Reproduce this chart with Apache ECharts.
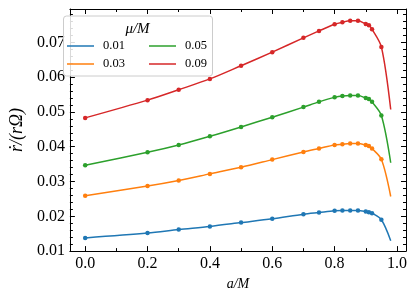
<!DOCTYPE html>
<html>
<head>
<meta charset="utf-8">
<script src="https://cdn.jsdelivr.net/npm/echarts@6/dist/echarts.min.js"></script>
<style>html,body{margin:0;padding:0;background:#fff;}#c{width:415px;height:296px;}</style>
</head>
<body>
<div id="c"></div>
<script>
// spin parameter a/M samples
var aVals = [0, 0.2, 0.3, 0.4, 0.5, 0.6, 0.7, 0.75, 0.8, 0.825, 0.85, 0.875, 0.9, 0.91, 0.92, 0.95, 0.98];
// rdot/(r Omega) for each mu/M
var mu001 = [0.0138, 0.0152, 0.0162, 0.0171, 0.0182, 0.0193, 0.0206, 0.0211, 0.0216, 0.0217, 0.0217, 0.0217, 0.0214, 0.0212, 0.0209, 0.0190, 0.0130];
var mu003 = [0.0259, 0.0287, 0.0303, 0.0322, 0.0341, 0.0363, 0.0385, 0.0395, 0.0405, 0.0407, 0.0409, 0.0409, 0.0405, 0.0402, 0.0395, 0.0364, 0.0257];
var mu005 = [0.0347, 0.0384, 0.0405, 0.0430, 0.0457, 0.0485, 0.0514, 0.0529, 0.0542, 0.0546, 0.0547, 0.0547, 0.0540, 0.0537, 0.0529, 0.0490, 0.0354];
var mu009 = [0.0483, 0.0534, 0.0564, 0.0595, 0.0633, 0.0672, 0.0713, 0.0733, 0.0752, 0.0758, 0.0762, 0.0762, 0.0753, 0.0749, 0.0738, 0.0687, 0.0507];
var seriesNames = ['0.01', '0.03', '0.05', '0.09'];
var seriesColors = ['#1f77b4', '#ff7f0e', '#2ca02c', '#d62728'];
var xTicks = [0.0, 0.2, 0.4, 0.6, 0.8, 1.0];
var xMinorTicks = [0.1, 0.3, 0.5, 0.7, 0.9];
var yTicks = [0.01, 0.02, 0.03, 0.04, 0.05, 0.06, 0.07];
var yMinorTicks = [0.012, 0.014, 0.016, 0.018, 0.022, 0.024, 0.026, 0.028, 0.032, 0.034, 0.036, 0.038,
                   0.042, 0.044, 0.046, 0.048, 0.052, 0.054, 0.056, 0.058, 0.062, 0.064, 0.066, 0.068,
                   0.072, 0.074, 0.076, 0.078];

var FONT = '"Liberation Serif", "DejaVu Serif", serif';
var XMIN = -0.049, XMAX = 1.029, YMIN = 0.01, YMAX = 0.0796;

function xAxisDef(pos, ticks, len, labels, line) {
  return {
    type: 'value', position: pos, min: XMIN, max: XMAX,
    splitLine: {show: false},
    axisLine: {show: line, onZero: false, lineStyle: {color: '#000', width: 1}},
    axisTick: {show: true, inside: true, length: len, customValues: ticks, lineStyle: {color: '#000', width: 1}},
    axisLabel: {show: labels, customValues: ticks, color: '#000', fontFamily: FONT, fontSize: 16, margin: 5,
      formatter: function (v) { return v.toFixed(1); }},
    name: labels && pos === 'bottom' ? 'a/M' : '',
    nameLocation: 'middle', nameGap: 22,
    nameTextStyle: {fontFamily: FONT, fontStyle: 'italic', fontSize: 14, color: '#000'}
  };
}
function yAxisDef(pos, ticks, len, labels, line) {
  return {
    type: 'value', position: pos, min: YMIN, max: YMAX,
    splitLine: {show: false},
    axisLine: {show: line, onZero: false, lineStyle: {color: '#000', width: 1}},
    axisTick: {show: true, inside: true, length: len, customValues: ticks, lineStyle: {color: '#000', width: 1}},
    axisLabel: {show: labels, customValues: ticks, color: '#000', fontFamily: FONT, fontSize: 16, margin: 5,
      formatter: function (v) { return v.toFixed(2); }},
    name: labels && pos === 'left' ? 'ṙ/(rΩ)' : '',
    nameLocation: 'middle', nameGap: 39,
    nameTextStyle: {fontFamily: FONT, fontStyle: 'italic', fontSize: 18, color: '#000'}
  };
}

var allData = [mu001, mu003, mu005, mu009];
var series = allData.map(function (vals, i) {
  return {
    name: seriesNames[i], type: 'line', xAxisIndex: 0, yAxisIndex: 0,
    smooth: 0.3,
    symbol: 'circle', symbolSize: 4.5,
    lineStyle: {color: seriesColors[i], width: 1.5},
    itemStyle: {color: seriesColors[i], borderWidth: 0},
    data: aVals.map(function (a, j) {
      var item = {value: [a, vals[j]]};
      if (j === aVals.length - 1) item.symbol = 'none';
      return item;
    }),
    z: 2
  };
});

function legendDef(names, left) {
  return {
    data: names, orient: 'vertical', left: left, top: 39, padding: 0,
    icon: 'rect', itemWidth: 27, itemHeight: 1.5, itemGap: 4,
    itemStyle: {borderWidth: 0},
    textStyle: {fontFamily: FONT, fontSize: 12.5, color: '#000', lineHeight: 14, padding: [0, 0, 0, 4]},
    selectedMode: false
  };
}

var chart = echarts.init(document.getElementById('c'), null, {renderer: 'canvas'});
chart.setOption({
  animation: false,
  backgroundColor: '#fff',
  grid: {left: 57.5, right: 9, top: 9, bottom: 44, containLabel: false},
  xAxis: [
    xAxisDef('bottom', xTicks, 5, true, true),
    xAxisDef('bottom', xMinorTicks, 3, false, false),
    xAxisDef('top', xTicks, 5, false, true),
    xAxisDef('top', xMinorTicks, 3, false, false)
  ],
  yAxis: [
    yAxisDef('left', yTicks, 5, true, true),
    yAxisDef('left', yMinorTicks, 3, false, false),
    yAxisDef('right', yTicks, 5, false, true),
    yAxisDef('right', yMinorTicks, 3, false, false)
  ],
  legend: [legendDef([seriesNames[0], seriesNames[1]], 67), legendDef([seriesNames[2], seriesNames[3]], 149)],
  graphic: [
    {type: 'rect', left: 63, top: 15.5, z: 3,
      shape: {width: 149, height: 60, r: 3},
      style: {fill: 'rgba(255,255,255,0.85)', stroke: '#cccccc', lineWidth: 1}},
    {type: 'text', x: 137.5, y: 29, z: 5,
      style: {text: 'μ/M', fontFamily: FONT, fontStyle: 'italic', fontSize: 15, fill: '#000',
        align: 'center', verticalAlign: 'middle'}}
  ],
  series: series
});
</script>
</body>
</html>
